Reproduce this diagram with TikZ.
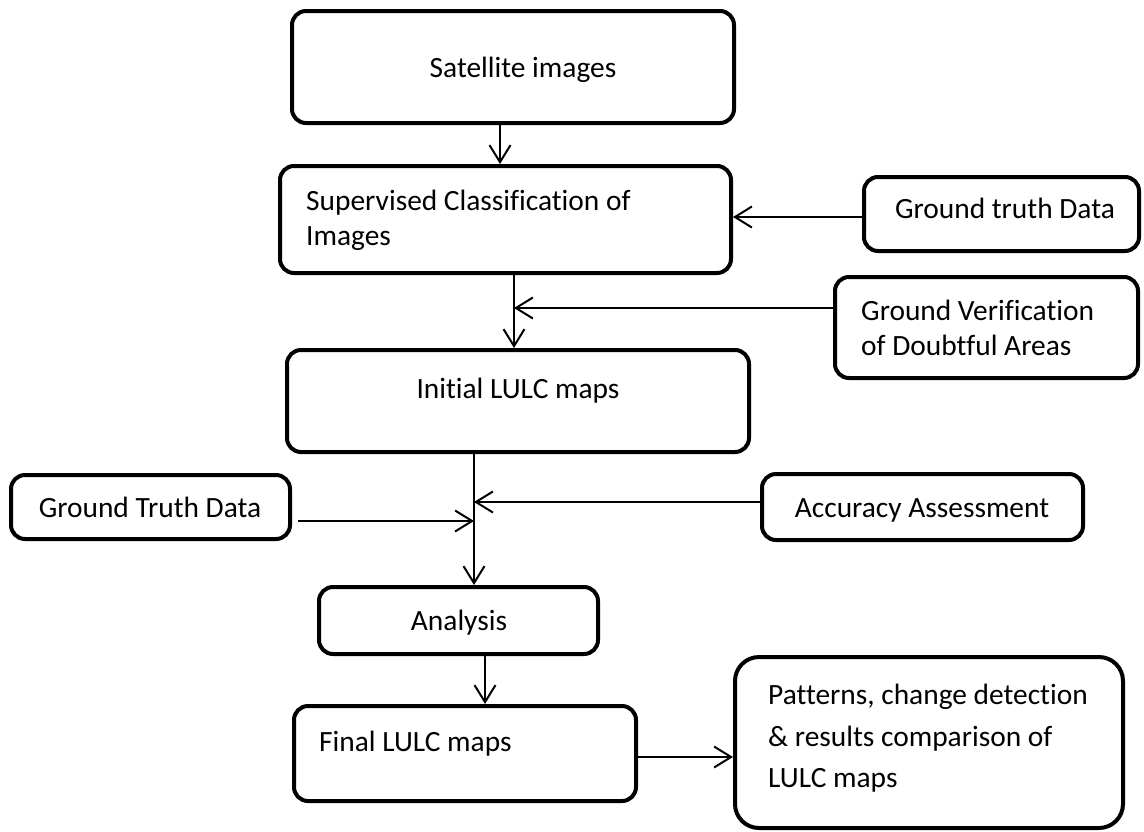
\documentclass[tikz,border=0pt]{standalone}
\usepackage{fontspec}
\setmainfont[Ligatures=NoCommon]{Carlito}
\usetikzlibrary{arrows.meta}
\begin{document}
\begin{tikzpicture}[x=1pt,y=-1pt,
  box/.style={draw=black,line width=4pt,rounded corners=14pt,inner sep=0pt},
  lbl/.style={inner sep=0pt,font=\fontsize{29.4}{36}\selectfont},
  arr/.style={line width=2pt,-{Straight Barb[length=17pt,width=21pt,line width=2pt]}}
]
\useasboundingbox (0,0) rectangle (1144,831);

% boxes
\node[box,minimum width=442pt,minimum height=112pt] (sat) at (513,67) {};
\node[box,minimum width=451pt,minimum height=107pt] (sup) at (505.5,219.5) {};
\node[box,minimum width=275pt,minimum height=74pt] (gtd) at (1001.5,214) {};
\node[box,minimum width=303pt,minimum height=101pt] (gv) at (986.5,327.5) {};
\node[box,minimum width=462pt,minimum height=102pt] (init) at (518,401) {};
\node[box,minimum width=321pt,minimum height=66pt] (acc) at (922.5,507) {};
\node[box,minimum width=279pt,minimum height=64pt] (gtdb) at (150.5,507) {};
\node[box,minimum width=279pt,minimum height=67pt] (ana) at (458.5,620.5) {};
\node[box,minimum width=342pt,minimum height=95pt] (fin) at (465,753.5) {};
\node[box,rounded corners=24pt,minimum width=388pt,minimum height=171pt] (pat) at (929,742.5) {};

% labels
\node[lbl,anchor=base] (tsat) at (523,77) {Satellite images};
\node[lbl,anchor=base west] (tsup1) at (306,210) {Supervised Classification of};
\node[lbl,anchor=base west] (tsup2) at (306,245.5) {Images};
\node[lbl,anchor=base] (tgtd) at (1005,218) {Ground truth Data};
\node[lbl,anchor=base west] (tgv1) at (861,320) {Ground Verification};
\node[lbl,anchor=base west] (tgv2) at (861,355) {of Doubtful Areas};
\node[lbl,anchor=base] (tinit) at (518,398) {Initial LULC maps};
\node[lbl,anchor=base] (tgtdb) at (150,517) {Ground Truth Data};
\node[lbl,anchor=base] (tacc) at (922,517) {Accuracy Assessment};
\node[lbl,anchor=base] (tana) at (459,630) {Analysis};
\node[lbl,anchor=base west] (tfin) at (319,751) {Final LULC maps};
\node[lbl,anchor=base west] (tpat1) at (768,704) {Patterns, change detection};
\node[lbl,anchor=base west] (tpat2) at (768,746) {\& results comparison of};
\node[lbl,anchor=base west] (tpat3) at (768,787) {LULC maps};

% junction points on the main flow
\coordinate (cA) at (500,0);
\coordinate (cB) at (514,308);
\coordinate (cC) at (474,502);
\coordinate (cD) at (474,521);
\coordinate (cE) at (485,0);
\coordinate (cF) at (298,521);
\coordinate (yG) at (0,217);
\coordinate (yH) at (0,757);

% connectors
\draw[arr] (sat.south -| cA) -- (sup.north -| cA);
\draw[arr] (gtd.west |- yG) -- (sup.east |- yG);
\draw[line width=2pt] (sup.south -| cB) -- (cB);
\draw[arr] (cB) -- (init.north -| cB);
\draw[arr] (gv.west |- cB) -- (cB);
\draw[line width=2pt] (init.south -| cC) -- (cC);
\draw[arr] (cC) -- (ana.north -| cC);
\draw[arr] (acc.west |- cC) -- (cC);
\draw[arr] (cF) -- (cD);
\draw[arr] (ana.south -| cE) -- (fin.north -| cE);
\draw[arr] (fin.east |- yH) -- (pat.west |- yH);
\end{tikzpicture}
\end{document}
